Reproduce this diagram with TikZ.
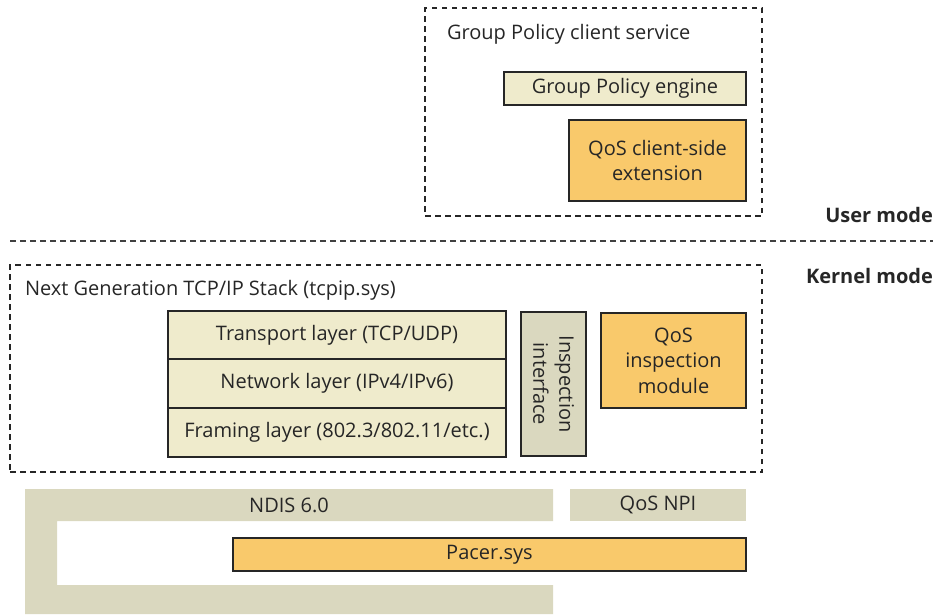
\documentclass[tikz,border=0pt]{standalone}
\usepackage{fontspec}
\setmainfont{Open Sans}
\begin{document}
\begin{tikzpicture}[x=1pt,y=-1pt,font=\fontsize{20}{25.5}\selectfont,text=black!85,
  frame/.style={draw=black!85,line width=2.5pt,dash pattern=on 5.5pt off 4.5pt},
  creambox/.style={draw=black!85,line width=2pt,fill=cream,align=center},
  orangebox/.style={draw=black!85,line width=2pt,fill=qosorange,align=center},
  greybox/.style={fill=ndisgrey,align=center}]
\definecolor{cream}{HTML}{EFEBCC}
\definecolor{qosorange}{HTML}{F9C96B}
\definecolor{ndisgrey}{HTML}{DAD8BF}
\useasboundingbox (0,0) rectangle (937,614);
% user mode
\node[frame,minimum width=337pt,minimum height=208pt] (gpcs) at (593.5,112) {};
\node[anchor=west] (gpcslabel) at (443.5,34) {Group Policy client service};
\node[creambox,minimum width=242pt,minimum height=33pt] (engine) at (625,88.5) {Group Policy engine};
\node[orangebox,minimum width=177pt,minimum height=81pt] (cse) at (657.5,160.5) {QoS client-side\\extension};
\node[anchor=east,font=\fontsize{20}{25}\selectfont\bfseries] (user) at (936.5,215) {User mode};
\coordinate (divl) at (10,241);
\coordinate (divr) at (933,241);
\draw[frame,draw=black!75] (divl) -- (divr);
\node[anchor=east,font=\fontsize{20}{25}\selectfont\bfseries] (kernel) at (936.5,276) {Kernel mode};
% kernel mode
\node[frame,minimum width=752pt,minimum height=207pt] (stack) at (386,368.5) {};
\node[anchor=west] (stacklabel) at (21.5,290) {Next Generation TCP/IP Stack (tcpip.sys)};
\node[creambox,minimum width=338pt,minimum height=48pt] (transport) at (337,335) {Transport layer (TCP/UDP)};
\node[creambox,minimum width=338pt,minimum height=49pt] (network) at (337,383.5) {Network layer (IPv4/IPv6)};
\node[creambox,minimum width=338pt,minimum height=49pt] (framing) at (337,432.5) {Framing layer (802.3/802.11/etc.)};
\node[greybox,draw=black!85,line width=2pt,minimum width=65pt,minimum height=144pt] (inspect) at (553.5,384) {};
\node[rotate=-90,align=center,font=\fontsize{20}{26}\selectfont] (inspectlabel) at (inspect) {Inspection\\interface};
\node[orangebox,minimum width=145pt,minimum height=95pt] (module) at (673.5,360.5) {QoS\\inspection\\module};
% NDIS
\fill[ndisgrey] (25,489) -- (553,489) -- (553,521) -- (57,521) -- (57,585) -- (553,585) -- (553,614) -- (25,614) -- cycle;
\node (ndis) at (289,505) {NDIS 6.0};
\node[greybox,minimum width=176pt,minimum height=32pt] (npi) at (658,505) {QoS NPI};
\node[orangebox,minimum width=513pt,minimum height=33pt] (pacer) at (489.5,554.5) {Pacer.sys};
\end{tikzpicture}
\end{document}
